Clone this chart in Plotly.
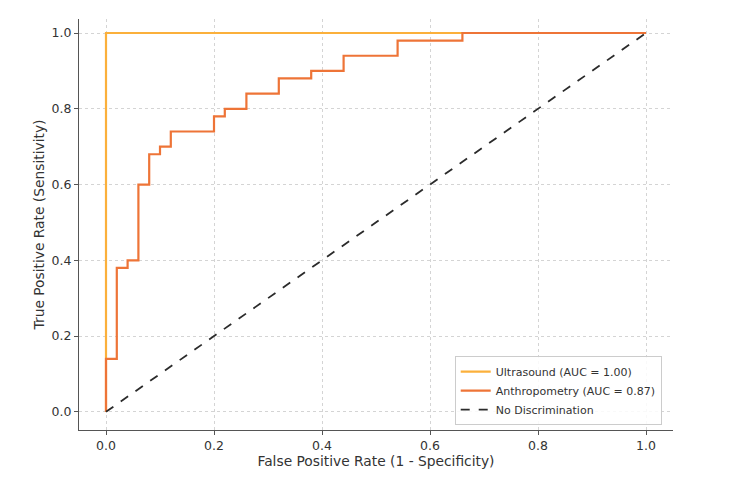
import plotly.graph_objects as go

# Data
us_fpr = [0.0, 0.0, 1.0]
us_tpr = [0.0, 1.0, 1.0]
an_fpr = [0.0, 0.0, 0.02, 0.04, 0.06, 0.08, 0.10, 0.12, 0.20, 0.22, 0.26, 0.32, 0.38, 0.44, 0.54, 0.66, 1.0]
an_tpr = [0.0, 0.14, 0.38, 0.40, 0.60, 0.68, 0.70, 0.74, 0.78, 0.80, 0.84, 0.88, 0.90, 0.94, 0.98, 1.0, 1.0]
diag = [0.0, 1.0]
ticks = [0.0, 0.2, 0.4, 0.6, 0.8, 1.0]
tick_labels = ["0.0", "0.2", "0.4", "0.6", "0.8", "1.0"]

fig = go.Figure()
fig.add_trace(go.Scatter(x=us_fpr, y=us_tpr, mode="lines", name="Ultrasound (AUC = 1.00)",
                         line=dict(color="#FBB03B", width=2.2, shape="hv")))
fig.add_trace(go.Scatter(x=an_fpr, y=an_tpr, mode="lines", name="Anthropometry (AUC = 0.87)",
                         line=dict(color="#EE7437", width=2.2, shape="hv")))
fig.add_trace(go.Scatter(x=diag, y=diag, mode="lines", name="No Discrimination",
                         line=dict(color="#2b2b2b", width=1.8, dash="dash")))

axis_common = dict(
    showgrid=True, gridcolor="#d4d4d4", gridwidth=0.8, griddash="dot",
    showline=True, linecolor="#555555", linewidth=1.2,
    ticks="outside", ticklen=4, tickcolor="#555555", tickwidth=1,
    tickfont=dict(family="DejaVu Sans", size=12.5, color="#333333"),
    zeroline=False, mirror=False,
    tickvals=ticks, ticktext=tick_labels,
)

fig.update_layout(
    width=750, height=483,
    margin=dict(l=79, r=77, t=19, b=53),
    paper_bgcolor="white", plot_bgcolor="white",
    font=dict(family="DejaVu Sans", color="#333333"),
    xaxis=dict(range=[-0.05, 1.05],
               title=dict(text="False Positive Rate (1 - Specificity)", font=dict(size=13.8, color="#333333"), standoff=2),
               **axis_common),
    yaxis=dict(range=[-0.048, 1.037],
               title=dict(text="True Positive Rate (Sensitivity)", font=dict(size=13.8, color="#333333"), standoff=3),
               **axis_common),
    legend=dict(x=0.981, y=0.012, xanchor="right", yanchor="bottom",
                bgcolor="rgba(255,255,255,0.85)", bordercolor="#cccccc", borderwidth=1,
                font=dict(family="DejaVu Sans", size=11, color="#333333"),
                itemwidth=30, tracegroupgap=0),
    showlegend=True,
)

fig.write_html("out.html")
